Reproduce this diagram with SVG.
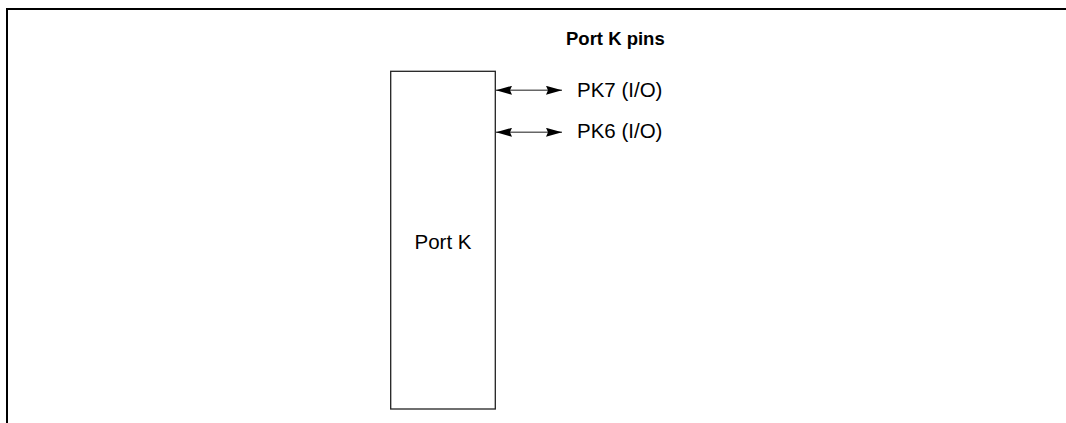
<svg xmlns="http://www.w3.org/2000/svg" width="1066" height="423" viewBox="0 0 1066 423">
<style>
.t{font-family:"Liberation Sans",Arial,sans-serif;font-size:20.5px;fill:#000}
.b{font-family:"Liberation Sans",Arial,sans-serif;font-size:18.5px;font-weight:bold;fill:#000}
.c{stroke:#666;stroke-width:1.5;fill:none}
</style>
<defs>
<marker id="ah" viewBox="0 0 16 9" refX="16" refY="4.5" markerWidth="16" markerHeight="9" markerUnits="userSpaceOnUse" orient="auto-start-reverse">
<path d="M0,0 L16,4.5 L0,9 L2,4.5 Z" fill="#000"/>
</marker>
</defs>
<rect width="1066" height="423" fill="#fff"/>
<g id="frame">
<path d="M7,423 V9 H1066" fill="none" stroke="#000" stroke-width="2"/>
</g>
<text class="b" x="566" y="45">Port K pins</text>
<g id="portK">
<rect x="390.7" y="71.3" width="104.6" height="337.7" fill="#fff" stroke="#222" stroke-width="1.3"/>
<text class="t" x="443" y="249.3" text-anchor="middle">Port K</text>
</g>
<g id="connectors">
<line class="c" x1="496" y1="90.3" x2="562" y2="90.3" marker-start="url(#ah)" marker-end="url(#ah)"/>
<line class="c" x1="496" y1="132.3" x2="562" y2="132.3" marker-start="url(#ah)" marker-end="url(#ah)"/>
</g>
<g id="pk7">
<text class="t" x="577" y="96.7">PK7 (I/O)</text>
</g>
<g id="pk6">
<text class="t" x="577" y="138.3">PK6 (I/O)</text>
</g>
</svg>
